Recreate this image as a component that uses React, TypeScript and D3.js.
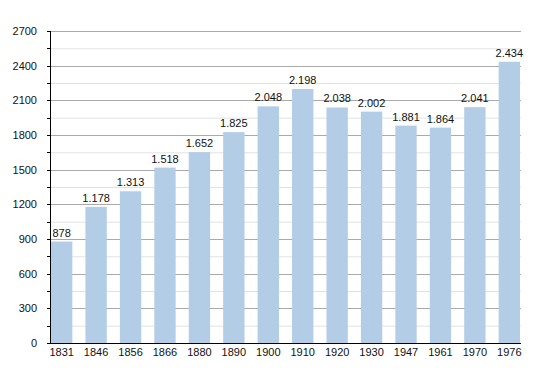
import React, { useEffect, useRef } from 'react';
import * as d3 from 'd3';

const years = ['1831', '1846', '1856', '1866', '1880', '1890', '1900', '1910', '1920', '1930', '1947', '1961', '1970', '1976'];
const population = [878, 1178, 1313, 1518, 1652, 1825, 2048, 2198, 2038, 2002, 1881, 1864, 2041, 2434];
const majorTicks = [0, 300, 600, 900, 1200, 1500, 1800, 2100, 2400, 2700];
const minorTicks = [150, 450, 750, 1050, 1350, 1650, 1950, 2250, 2550];

const formatPop = (v: number) => {
  const s = String(v);
  return s.length > 3 ? s.slice(0, s.length - 3) + '.' + s.slice(-3) : s;
};

export default function App() {
  const ref = useRef<SVGSVGElement>(null);

  useEffect(() => {
    if (!ref.current) return;
    const width = 550;
    const height = 373;
    const left = 51;
    const right = 521;
    const top = 31;
    const bottom = 343;

    const svg = d3.select(ref.current);
    svg.selectAll('*').remove();
    svg.attr('width', width).attr('height', height);

    const font = 'Liberation Sans, Arial, Helvetica, sans-serif';

    const x = d3.scaleBand<string>()
      .domain(years)
      .range([left, right - 1])
      .paddingInner(0.38)
      .paddingOuter(0);

    const y = d3.scaleLinear().domain([0, 2700]).range([bottom, top]);

    // minor grid
    svg.append('g')
      .selectAll('line')
      .data(minorTicks)
      .enter()
      .append('line')
      .attr('x1', left)
      .attr('x2', right)
      .attr('y1', d => y(d) + 0.5)
      .attr('y2', d => y(d) + 0.5)
      .attr('stroke', '#e2e2e2')
      .attr('stroke-width', 1);

    // major grid
    svg.append('g')
      .selectAll('line')
      .data(majorTicks.filter(d => d > 0))
      .enter()
      .append('line')
      .attr('x1', left)
      .attr('x2', right)
      .attr('y1', d => Math.round(y(d)) + 0.5)
      .attr('y2', d => Math.round(y(d)) + 0.5)
      .attr('stroke', '#aaaaaa')
      .attr('stroke-width', 1);

    // bars
    svg.append('g')
      .selectAll('rect')
      .data(population)
      .enter()
      .append('rect')
      .attr('x', (d, i) => x(years[i]) ?? 0)
      .attr('y', d => y(d))
      .attr('width', x.bandwidth())
      .attr('height', d => bottom - y(d))
      .attr('fill', '#b3cde6');

    // value labels
    svg.append('g')
      .selectAll('text')
      .data(population)
      .enter()
      .append('text')
      .attr('x', (d, i) => (x(years[i]) ?? 0) + x.bandwidth() / 2)
      .attr('y', d => y(d) - 5)
      .attr('text-anchor', 'middle')
      .attr('font-family', font)
      .attr('font-size', 11)
      .attr('fill', '#111')
      .text(d => formatPop(d));

    // y axis
    const yAxis = svg.append('g');
    yAxis.append('line')
      .attr('x1', left - 0.5).attr('x2', left - 0.5)
      .attr('y1', top).attr('y2', bottom + 1)
      .attr('stroke', '#000');
    yAxis.selectAll('line.tick')
      .data([...majorTicks, ...minorTicks])
      .enter()
      .append('line')
      .attr('class', 'tick')
      .attr('x1', left - 4)
      .attr('x2', left)
      .attr('y1', d => Math.round(y(d)) + 0.5)
      .attr('y2', d => Math.round(y(d)) + 0.5)
      .attr('stroke', '#000');
    yAxis.selectAll('text')
      .data(majorTicks)
      .enter()
      .append('text')
      .attr('x', 37)
      .attr('y', d => y(d) + 4)
      .attr('text-anchor', 'end')
      .attr('font-family', font)
      .attr('font-size', 11)
      .attr('fill', '#111')
      .text(d => String(d));

    // x axis
    const xAxis = svg.append('g');
    xAxis.append('line')
      .attr('x1', left - 1).attr('x2', right)
      .attr('y1', bottom + 0.5).attr('y2', bottom + 0.5)
      .attr('stroke', '#000');
    xAxis.selectAll('text')
      .data(years)
      .enter()
      .append('text')
      .attr('x', d => (x(d) ?? 0) + x.bandwidth() / 2)
      .attr('y', bottom + 13)
      .attr('text-anchor', 'middle')
      .attr('font-family', font)
      .attr('font-size', 11)
      .attr('fill', '#111')
      .text(d => d);
  }, []);

  return (
    <div style={{ position: 'absolute', left: 0, top: 0, width: 550, height: 373, background: '#fff' }}>
      <svg ref={ref} style={{ display: 'block' }} />
    </div>
  );
}
